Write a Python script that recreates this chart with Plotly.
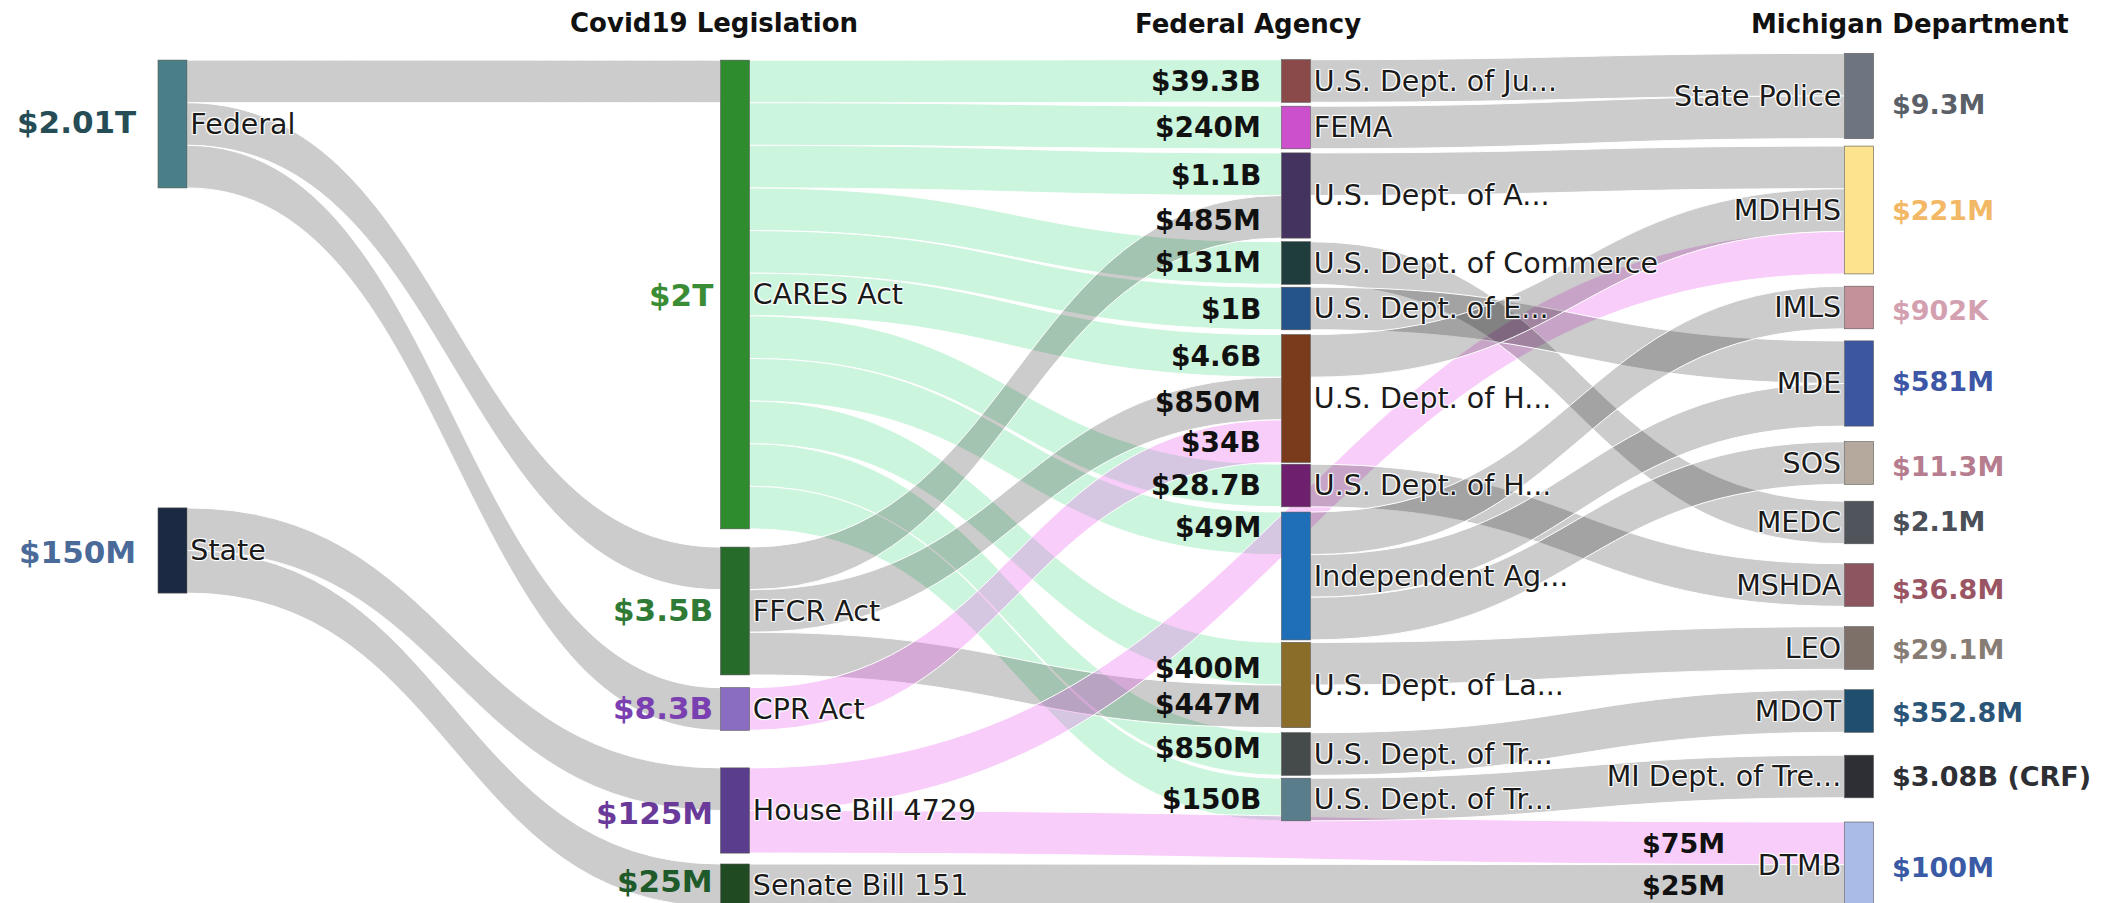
import plotly.graph_objects as go

W, H = 2124, 903

# ---- data ----
source_names = ["Federal", "State"]
legislation_names = ["CARES Act", "FFCR Act", "CPR Act", "House Bill 4729", "Senate Bill 151"]
agency_names = ["U.S. Dept. of Ju...", "FEMA", "U.S. Dept. of A...", "U.S. Dept. of Commerce",
                "U.S. Dept. of E...", "U.S. Dept. of H...", "U.S. Dept. of H...", "Independent Ag...",
                "U.S. Dept. of La...", "U.S. Dept. of Tr...", "U.S. Dept. of Tr..."]
michigan_names = ["State Police", "MDHHS", "IMLS", "MDE", "SOS", "MEDC", "MSHDA", "LEO", "MDOT",
                  "MI Dept. of Tre...", "DTMB"]

source_totals = ["$2.01T", "$150M"]
legislation_totals = ["$2T", "$3.5B", "$8.3B", "$125M", "$25M"]
michigan_totals = ["$9.3M", "$221M", "$902K", "$581M", "$11.3M", "$2.1M", "$36.8M", "$29.1M",
                   "$352.8M", "$3.08B (CRF)", "$100M"]

# links: source node index, target node index, band width, dollar label
link_source = [0, 0, 0, 1, 1,
               2, 2, 2, 2, 2, 2, 2, 2, 2, 2, 2,
               3, 3, 3,
               4,
               5, 5, 6,
               7, 8, 9, 10, 11, 12, 13, 14, 14, 14, 15, 16, 17]
link_target = [2, 3, 4, 5, 6,
               7, 8, 9, 10, 11, 12, 13, 14, 15, 16, 17,
               9, 12, 15,
               12,
               19, 28, 28,
               18, 18, 19, 23, 21, 19, 24, 20, 21, 22, 25, 26, 27]
link_value = [1, 1, 1, 1, 1,
              1, 1, 1, 1, 1, 1, 1, 1, 1, 1, 1,
              1, 1, 1,
              1,
              1, 1, 1,
              1, 1, 1, 1, 1, 1, 1, 1, 1, 1, 1, 1, 1]
link_amount = ["", "", "", "", "",
               "$39.3B", "$240M", "$1.1B", "$131M", "$1B", "$4.6B", "$28.7B", "$49M", "$400M", "$850M", "$150B",
               "$485M", "$850M", "$447M",
               "$34B",
               "", "$75M", "$25M",
               "", "", "", "", "", "", "", "", "", "", "", "", ""]

# ---- styling ----
GREY = "rgba(0,0,0,0.2)"
GREEN = "rgba(0,205,85,0.2)"
PINK = "rgba(235,90,235,0.3)"
link_colors = [GREY] * 5 + [GREEN] * 11 + [GREY] * 3 + [PINK] + [PINK, PINK, GREY] + [GREY] * 13

node_colors = ["#4b7f87", "#1b2a42",
               "#2e8b2e", "#276b2a", "#8a6cc0", "#5a3d8c", "#1f4a22",
               "#8b4a4a", "#cc4fcc", "#45335f", "#1f3d3d", "#24548a", "#7a3a1c", "#6e1f6e",
               "#1f6fb8", "#8a6d28", "#454a4a", "#5a7d8c",
               "#6f7580", "#fde38e", "#c4909a", "#3d56a0", "#b5a89c", "#50555c", "#8c5560",
               "#7d7068", "#1f4e6e", "#2d2f35", "#aabbe8"]

labels = source_names + legislation_names + agency_names + michigan_names

# layout of the columns (pixel centres)
col_x = [172.5, 735, 1296, 1859]
node_col = [0] * 2 + [1] * 5 + [2] * 11 + [3] * 11
node_cy = [124, 550.5,
           294.5, 611, 709, 810.5, 885.3,
           81, 127.5, 195.5, 263, 308.5, 398.5, 485.5, 576, 685, 754, 799.5,
           96, 210, 307.5, 383.5, 463, 522.5, 585, 648, 711, 776.5, 864.6]
TOP, SPAN = 58, 783

fig = go.Figure(go.Sankey(
    arrangement="fixed",
    domain=dict(x=[0, 1], y=[1 - (TOP + SPAN) / H, 1 - TOP / H]),
    node=dict(
        label=labels,
        color=node_colors,
        x=[col_x[c] / W for c in node_col],
        y=[(cy - TOP) / SPAN for cy in node_cy],
        pad=4,
        thickness=29,
        line=dict(color="#555555", width=0.6),
        hovertemplate="%{label}<extra></extra>",
    ),
    link=dict(
        source=link_source,
        target=link_target,
        value=link_value,
        color=link_colors,
        customdata=link_amount,
        line=dict(color="white", width=1),
        hovertemplate="%{source.label} → %{target.label} %{customdata}<extra></extra>",
    ),
    textfont=dict(family="DejaVu Sans", size=28.5, color="#1a1a1a"),
))

annotations = []


def add_text(text, x, y, size, color, anchor):
    annotations.append(dict(text="<b>" + text + "</b>", x=x / W, y=1 - y / H, xref="paper", yref="paper",
                            xanchor=anchor, yanchor="middle", showarrow=False,
                            font=dict(family="DejaVu Sans", size=size, color=color)))


# column headers
add_text("Covid19 Legislation", 714, 23, 26, "#111111", "center")
add_text("Federal Agency", 1248, 24, 26, "#111111", "center")
add_text("Michigan Department", 1910, 24, 26, "#111111", "center")

# source totals
src_colors = ["#264d55", "#4a6a9a"]
for t, cy, c in zip(source_totals, [122, 552], src_colors):
    add_text(t, 138, cy, 31, c, "right")

# legislation totals
leg_colors = ["#3a8c35", "#2f7a35", "#7a3fb0", "#6a3a9a", "#1f5a2a"]
for t, cy, c in zip(legislation_totals, [295, 610, 708, 813, 881], leg_colors):
    add_text(t, 715, cy, 31, c, "right")

# dollar amounts entering each federal agency
agency_amounts = link_amount[5:20]
agency_amount_y = [81, 128, 176, 221, 263, 309, 356, 402, 443, 485, 527, 668, 704, 748, 799]
agency_order = [0, 1, 2, 11, 3, 4, 5, 12, 14, 6, 7, 8, 13, 9, 10]
for k, cy in zip(agency_order, agency_amount_y):
    add_text(agency_amounts[k], 1263, cy, 28, "#111111", "right")

# DTMB inflows
add_text(link_amount[21], 1727, 843, 27, "#111111", "right")
add_text(link_amount[22], 1727, 885, 27, "#111111", "right")

# michigan totals
mi_colors = ["#5a5f68", "#f2b865", "#d3a0b0", "#3d56a5", "#b57d8e", "#4a4f58", "#9a5565",
             "#877d74", "#2a5578", "#2d2f35", "#3a5aa5"]
mi_y = [104, 211, 310, 382, 466, 521, 589, 649, 712, 776, 867]
for t, cy, c in zip(michigan_totals, mi_y, mi_colors):
    add_text(t, 1890, cy, 27, c, "left")

fig.update_layout(
    width=W, height=H,
    margin=dict(l=0, r=0, t=0, b=0),
    paper_bgcolor="white",
    plot_bgcolor="white",
    annotations=annotations,
)

fig.write_html("out.html", config={"displayModeBar": False},
               post_script="document.body.style.margin='0';")
